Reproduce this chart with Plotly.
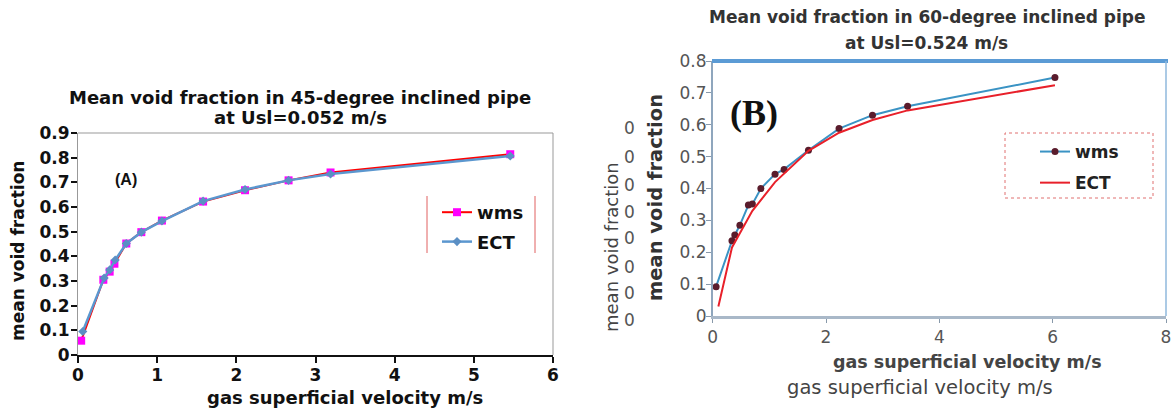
import plotly.graph_objects as go

# ---- Panel A data (45-degree, Usl=0.052 m/s) ----
a_wms_x = [0.04, 0.32, 0.40, 0.46, 0.61, 0.80, 1.06, 1.58, 2.11, 2.66, 3.19, 5.46]
a_wms_y = [0.058, 0.305, 0.338, 0.370, 0.452, 0.498, 0.545, 0.622, 0.668, 0.708, 0.740, 0.814]
a_ect_x = [0.06, 0.33, 0.40, 0.47, 0.61, 0.80, 1.06, 1.58, 2.11, 2.66, 3.19, 5.46]
a_ect_y = [0.095, 0.312, 0.345, 0.385, 0.452, 0.498, 0.543, 0.624, 0.671, 0.708, 0.734, 0.807]

# ---- Panel B data (60-degree, Usl=0.524 m/s) ----
b_wms_x = [0.06, 0.34, 0.39, 0.48, 0.63, 0.70, 0.85, 1.10, 1.26, 1.69, 2.23, 2.82, 3.44, 6.04]
b_wms_y = [0.092, 0.236, 0.254, 0.285, 0.348, 0.351, 0.400, 0.445, 0.460, 0.520, 0.588, 0.630, 0.658, 0.748]
b_ect_x = [0.10, 0.34, 0.45, 0.70, 1.10, 1.69, 2.23, 2.82, 3.44, 6.04]
b_ect_y = [0.030, 0.215, 0.250, 0.330, 0.420, 0.518, 0.575, 0.615, 0.645, 0.724]

a_xticks = [0, 1, 2, 3, 4, 5, 6]
a_yticks = [0, 0.1, 0.2, 0.3, 0.4, 0.5, 0.6, 0.7, 0.8, 0.9]
a_ylabels = ["0", "0.1", "0.2", "0.3", "0.4", "0.5", "0.6", "0.7", "0.8", "0.9"]
b_xticks = [0, 2, 4, 6, 8]
b_yticks = [0, 0.1, 0.2, 0.3, 0.4, 0.5, 0.6, 0.7, 0.8]
b_ylabels = ["0", "0.1", "0.2", "0.3", "0.4", "0.5", "0.6", "0.7", "0.8"]

W, H = 1176, 409
SANS = "Liberation Sans, Arial, sans-serif"
DJ = "DejaVu Sans, Verdana, sans-serif"
SERIF = "Liberation Serif, Times New Roman, serif"

def px(x):
    return x / W

def py(y):
    return 1 - y / H

fig = go.Figure()

fig.add_trace(go.Scatter(x=a_wms_x, y=a_wms_y, name="<b>wms</b>", mode="lines+markers",
                         line=dict(color="#ff0000", width=2),
                         marker=dict(symbol="square", size=8, color="#ff00ff"),
                         xaxis="x", yaxis="y", legend="legend", legendgroup="a1"))
fig.add_trace(go.Scatter(x=a_ect_x, y=a_ect_y, name="<b>ECT</b>", mode="lines+markers",
                         line=dict(color="#5b97cf", width=2.5),
                         marker=dict(symbol="diamond", size=7, color="#5b8fc4"),
                         xaxis="x", yaxis="y", legend="legend", legendgroup="a2"))

fig.add_trace(go.Scatter(x=b_wms_x, y=b_wms_y, name="<b>wms</b>", mode="lines+markers",
                         line=dict(color="#3a93c4", width=2),
                         marker=dict(symbol="circle", size=7, color="#5a1c2c"),
                         xaxis="x2", yaxis="y2", legend="legend2", legendgroup="b1"))
fig.add_trace(go.Scatter(x=b_ect_x, y=b_ect_y, name="<b>ECT</b>", mode="lines",
                         line=dict(color="#e8202a", width=2),
                         xaxis="x2", yaxis="y2", legend="legend2", legendgroup="b2"))

tickfont_a = dict(family=DJ, size=17, color="#111111")
tickfont_b = dict(family=DJ, size=17, color="#555555")

fig.update_layout(
    width=W, height=H,
    margin=dict(l=0, r=0, t=0, b=0, autoexpand=False),
    paper_bgcolor="white", plot_bgcolor="white",
    font=dict(family=SANS),
    xaxis=dict(domain=[px(78), px(553)], range=[0, 6], tickvals=a_xticks,
               ticktext=["<b>%d</b>" % v for v in a_xticks], automargin=False,
               showgrid=False, zeroline=False, showline=True, linecolor="#111111", linewidth=2,
               ticks="outside", ticklen=6, tickcolor="#111111", tickwidth=2, tickfont=tickfont_a,
               ticklabelstandoff=-2, anchor="y"),
    yaxis=dict(domain=[py(355), py(133)], range=[0, 0.9], tickvals=a_yticks,
               ticktext=["<b>%s</b>" % t for t in a_ylabels], automargin=False,
               showgrid=False, zeroline=False, showline=True, linecolor="#999999", linewidth=1,
               ticks="outside", ticklen=6, tickcolor="#111111", tickwidth=2, tickfont=tickfont_a,
               ticklabelstandoff=-2, anchor="x"),
    xaxis2=dict(domain=[px(712.7), px(1166)], range=[0, 8], tickvals=b_xticks, automargin=False,
                showgrid=False, zeroline=False, showline=True, linecolor="#a9b8c8", linewidth=3,
                ticks="outside", ticklen=4, tickcolor="#8899aa", tickfont=tickfont_b,
                anchor="y2"),
    yaxis2=dict(domain=[py(316), py(61)], range=[0, 0.8], tickvals=b_yticks, ticktext=b_ylabels,
                automargin=False,
                showgrid=False, zeroline=False, showline=True, linecolor="#8fa6bd", linewidth=1.5,
                ticks="outside", ticklen=5, tickcolor="#8899aa", tickfont=tickfont_b,
                ticklabelstandoff=-4, anchor="x2"),
    legend=dict(x=px(437), y=py(194), xanchor="left", yanchor="top",
                bgcolor="rgba(0,0,0,0)", borderwidth=0,
                font=dict(family=DJ, size=18, color="#111111"),
                itemwidth=30, tracegroupgap=3),
    legend2=dict(x=px(1035), y=py(134), xanchor="left", yanchor="top",
                 bgcolor="rgba(0,0,0,0)", borderwidth=0,
                 font=dict(family=DJ, size=17, color="#222222"),
                 itemwidth=30, tracegroupgap=6),
    showlegend=True,
)

shapes = [
    dict(type="line", xref="x domain", yref="y domain", x0=0, x1=1, y0=1, y1=1,
         line=dict(color="#999999", width=1)),
    dict(type="line", xref="x domain", yref="y domain", x0=1, x1=1, y0=0, y1=1,
         line=dict(color="#999999", width=1)),
    dict(type="line", xref="paper", yref="paper", x0=px(427), x1=px(427), y0=py(196), y1=py(253),
         line=dict(color="#e06060", width=1)),
    dict(type="line", xref="paper", yref="paper", x0=px(535), x1=px(535), y0=py(196), y1=py(253),
         line=dict(color="#e06060", width=1)),
    dict(type="line", xref="paper", yref="paper", x0=px(712), x1=px(1168), y0=py(61), y1=py(61),
         line=dict(color="#5b9bd5", width=4)),
    dict(type="line", xref="x2 domain", yref="y2 domain", x0=1, x1=1, y0=0, y1=1,
         line=dict(color="#8fb8dd", width=1.5)),
    dict(type="rect", xref="paper", yref="paper", x0=px(1005), x1=px(1153), y0=py(198), y1=py(133),
         line=dict(color="#e07070", width=1, dash="dot")),
]
fig.update_layout(shapes=shapes)


def note(text, x, y, size, color="#111111", angle=0, family=DJ, ref="paper"):
    if ref == "paper":
        xx, yy, xr, yr = px(x), py(y), "paper", "paper"
    else:
        xx, yy, xr, yr = x, y, "x", "y"
    return dict(text=text, xref=xr, yref=yr, x=xx, y=yy, showarrow=False,
                xanchor="center", yanchor="middle", textangle=angle, align="center",
                font=dict(family=family, size=size, color=color))


ann = []
# Panel A
ann.append(note("<b>Mean void fraction in 45-degree inclined pipe</b>", 300, 97, 18))
ann.append(note("<b>at Usl=0.052 m/s</b>", 300, 117, 18))
ann.append(note("<b>(A)</b>", 0.61, 0.71, 16, family=SANS, ref="data"))
ann.append(note("<b>mean void fraction</b>", 18, 251, 17, angle=-90))
ann.append(note("<b>gas superficial velocity m/s</b>", 345, 397, 18))
# Panel B
ann.append(note("<b>Mean void fraction in 60-degree inclined pipe</b>", 927, 17, 17, color="#333333"))
ann.append(note("<b>at Usl=0.524 m/s</b>", 926, 43, 17, color="#333333"))
ann.append(note("<b>(B)</b>", 754, 113, 36, family=SERIF))
ann.append(note("<b>mean void fraction</b>", 655, 198, 19.5, color="#333333", angle=-90))
ann.append(note("mean void fraction", 612, 247, 18, color="#444444", angle=-90))
for yy in [128, 157, 185, 212, 238, 267, 293, 320]:
    ann.append(note("0", 629, yy, 17, color="#555555"))
ann.append(note("<b>gas superficial velocity m/s</b>", 967, 362, 17.5, color="#444444"))
ann.append(note("gas superficial velocity m/s", 920, 387, 19.5, color="#444444"))
fig.update_layout(annotations=ann)

fig.write_html("out.html", config={"displayModeBar": False},
               post_script="document.body.style.margin='0px';")
